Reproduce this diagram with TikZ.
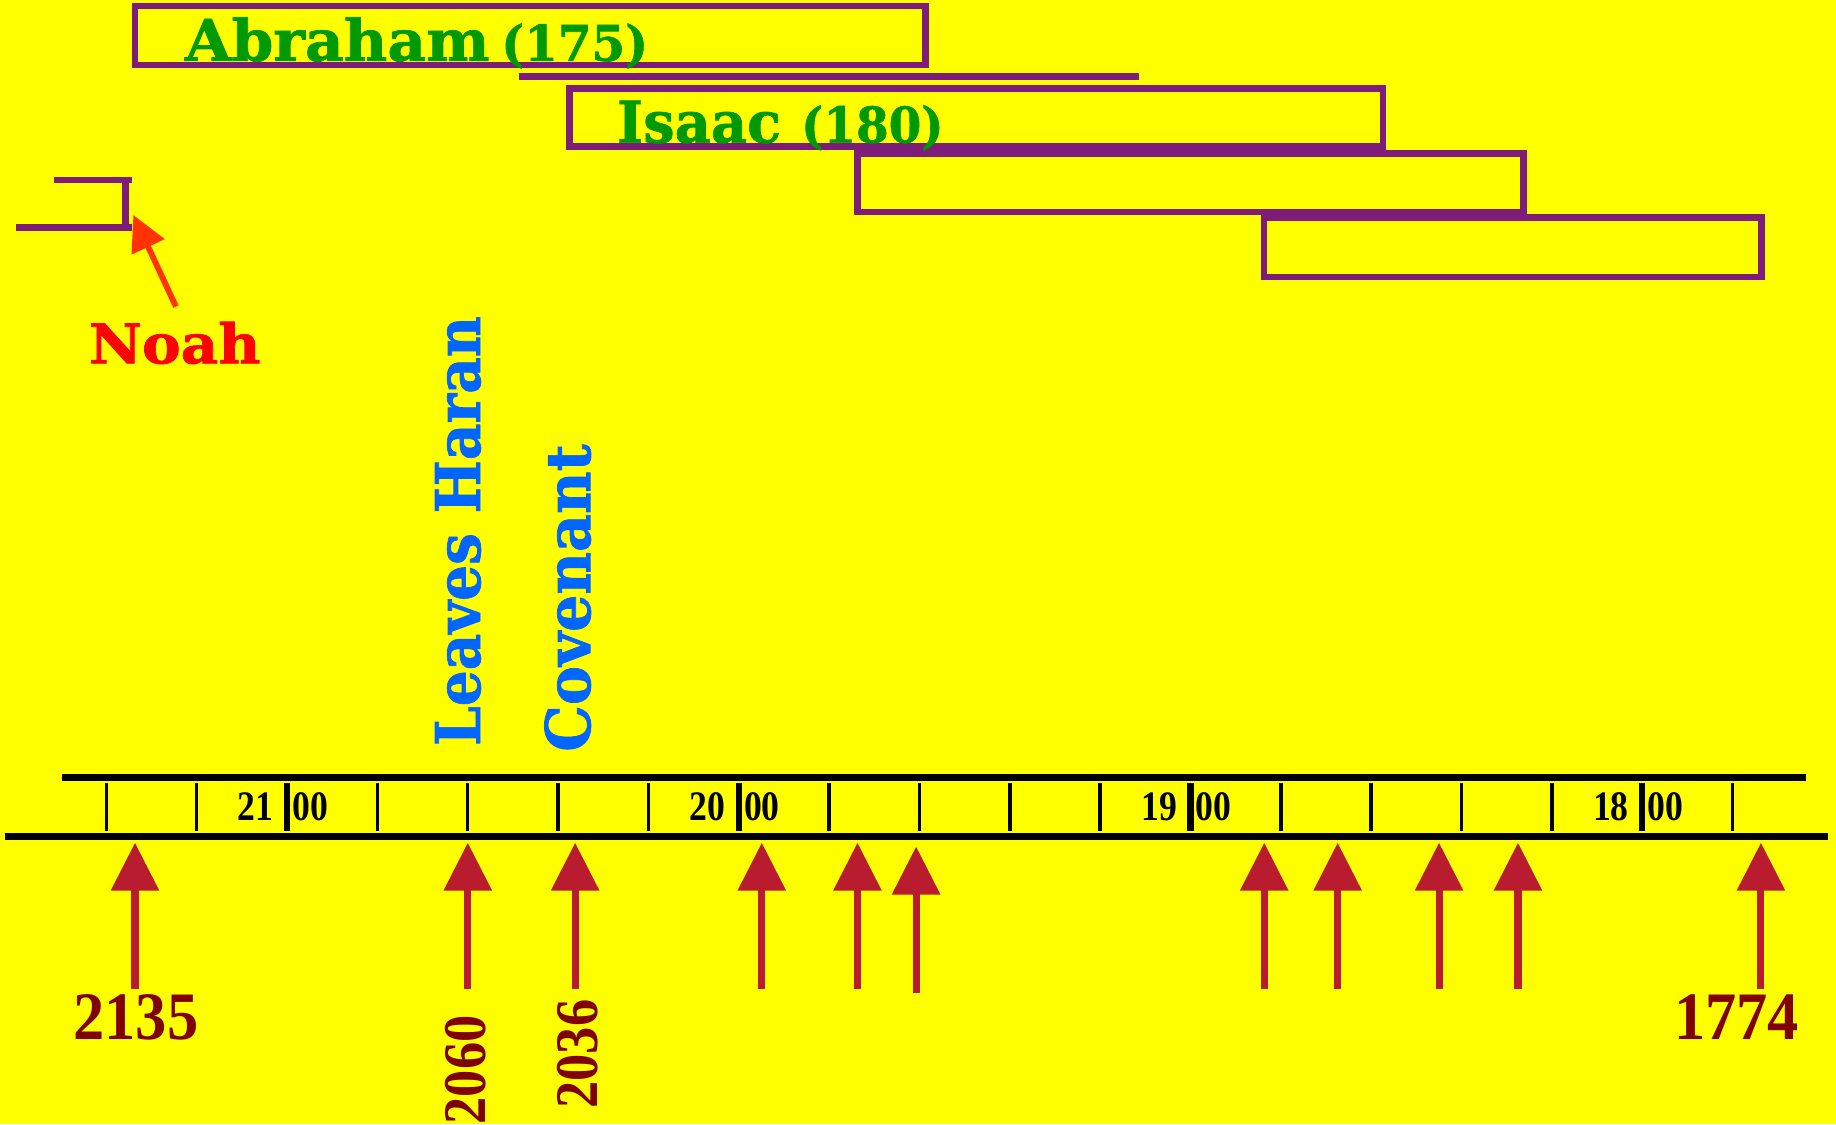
\documentclass[tikz,border=0pt]{standalone}
\usepackage{fontspec}
\usepackage{tikz}
\usetikzlibrary{arrows.meta}
\newfontfamily\heavyfont[BoldFeatures={FakeBold=1.2}]{DejaVu Serif}
\newfontfamily\yearfont{Liberation Serif}
\definecolor{bgyellow}{RGB}{255,255,0}
\definecolor{boxpurple}{RGB}{125,28,123}
\definecolor{namegreen}{RGB}{0,153,0}
\definecolor{eventblue}{RGB}{0,102,255}
\definecolor{noahred}{RGB}{255,0,0}
\definecolor{pointerred}{RGB}{255,51,0}
\definecolor{markred}{RGB}{185,28,46}
\definecolor{yearred}{RGB}{128,0,0}
\newcommand{\squeeze}[2]{\scalebox{#1}[1]{#2}}
\newcommand{\agesize}{\fontsize{12}{12}\selectfont}

\begin{document}
\begin{tikzpicture}[x=0.1mm,y=-0.1mm,
    every node/.style={inner sep=0pt,outer sep=0pt},
    lifebox/.style={draw=boxpurple,line width=0.57mm},
    person/.style={text=namegreen,anchor=base west,font=\heavyfont\bfseries\fontsize{14}{14}\selectfont},
    event/.style={text=eventblue,rotate=90,anchor=base west,font=\heavyfont\bfseries\fontsize{15}{15}\selectfont},
    rule/.style={line width=0.62mm},
    tick/.style={line width=0.3mm},
    century/.style={line width=0.55mm},
    decade/.style={font=\yearfont\bfseries\fontsize{10.2}{10.2}\selectfont},
    marker/.style={markred,line width=0.6mm,-{Triangle[width=4mm,length=4.1mm]}},
    year/.style={text=yearred,font=\yearfont\bfseries\fontsize{16.5}{16.5}\selectfont},
    sideyear/.style={text=yearred,rotate=90,font=\yearfont\bfseries\fontsize{14.7}{14.7}\selectfont}]
  \fill[bgyellow] (0,0) rectangle (1568,960);
  \useasboundingbox (0,0) rectangle (1568,960);

  % life spans
  \draw[lifebox] (115.3,5.1) rectangle (790.4,55.5);
  \draw[lifebox] (443,65.5) -- (973,65.5);
  \draw[lifebox] (486.5,75.4) rectangle (1181,125.3);
  \draw[lifebox] (732.4,130.9) rectangle (1301.2,181.1);
  \draw[lifebox] (1079.5,185.8) rectangle (1504.1,236.6);
  \draw[lifebox] (46.4,153.7) -- (112.7,153.7) (107.3,153.7) -- (107.3,194.5) (13.9,194.5) -- (112.7,194.5);
  \node[person] (abraham) at (158,52) {\squeeze{1.04}{Abraham}\hspace{1mm}{\agesize\squeeze{0.98}{(175)}}};
  \node[person] (isaac) at (527,121.8) {\squeeze{0.97}{Isaac} {\agesize\squeeze{0.95}{(180)}}};

  % Noah
  \node[text=noahred,anchor=base west,font=\heavyfont\bfseries\fontsize{13.3}{13.3}\selectfont] (noah) at (76,310.3) {\squeeze{1.06}{Noah}};
  \coordinate (noahend) at (113.9,183.6);
  \draw[pointerred,line width=0.5mm,-{Triangle[width=3mm,length=3mm]}] ([xshift=0.1mm,yshift=1.3mm]noah.north) -- (noahend);

  % events
  \node[event] (haran) at (410,637) {\squeeze{0.915}{Leaves Haran}};
  \node[event] (covenant) at (504,642) {\squeeze{0.95}{Covenant}};

  % time line
  \draw[rule] (52.6,664.3) -- (1542,664.3);
  \draw[rule] (4,714.3) -- (1561,714.3);
  \foreach \i in {0,...,18}
    \draw[tick] (90.8+77.16*\i,669) -- ++(0,40.5);
  \foreach \c/\i in {21/2,20/7,19/12,18/17} {
    \draw[century] (90.8+77.16*\i,669) -- ++(0,40.5);
    \node[decade,anchor=base east] (c\c) at (79.3+77.16*\i,700.3) {\squeeze{0.85}{\c}};
    \node[decade,anchor=base west] (h\c) at (95.3+77.16*\i,700.3) {\squeeze{0.85}{00}};
  }

  % dates
  \foreach \x [count=\n] in {115.3,399.5,491.2,650.6,732.3,1079.7,1142.4,1229,1296.4,1503.9} {
    \coordinate (foot\n) at (\x,845);
    \coordinate (head\n) at (\x,719.7);
    \draw[marker] (foot\n) -- (head\n);
  }
  \coordinate (foot11) at (782.4,848);
  \coordinate (head11) at (782.4,723);
  \draw[marker] (foot11) -- (head11);
  \node[year] (y2135) at (116,869) {\squeeze{0.92}{2135}};
  \node[year] (y1774) at (1483.2,869) {\squeeze{0.92}{1774}};
  \node[sideyear] (y2060) at (398,913.7) {\squeeze{0.9}{2060}};
  \node[sideyear] (y2036) at (493.6,900.2) {\squeeze{0.9}{2036}};
\end{tikzpicture}
\end{document}
